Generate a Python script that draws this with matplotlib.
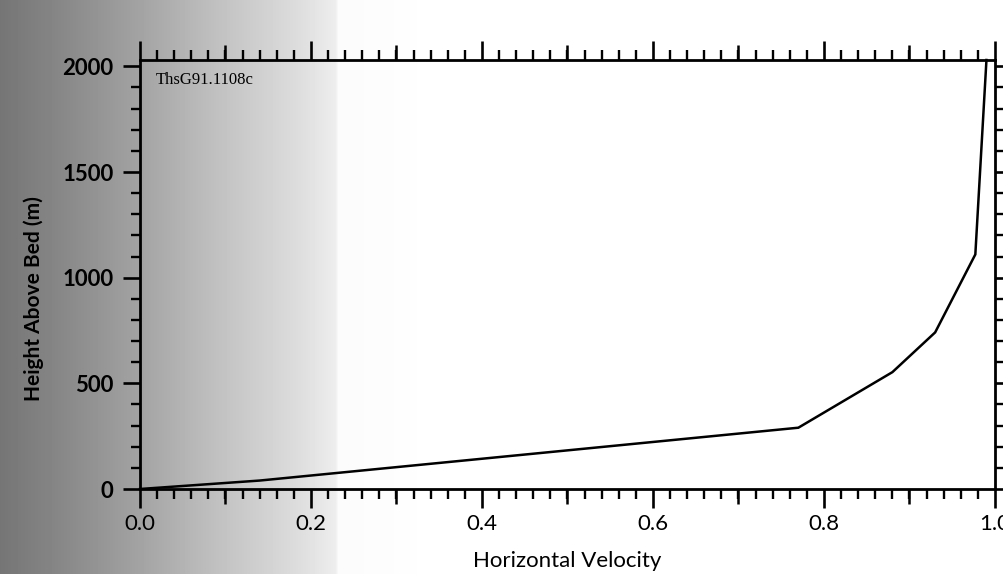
import numpy as np
import matplotlib
matplotlib.use("Agg")
import matplotlib.pyplot as plt
from matplotlib.ticker import MultipleLocator

# velocity profile, normalised horizontal velocity vs height above bed
velocity = [0.0, 0.14, 0.77, 0.88, 0.93, 0.977, 0.99]
height = [0, 40, 290, 553, 741, 1110, 2030]

x_major = [0.0, 0.2, 0.4, 0.6, 0.8, 1.0]
x_mid = [0.1, 0.3, 0.5, 0.7, 0.9]
x_labels = ["0.0", "0.2", "0.4", "0.6", "0.8", "1.0"]
y_major = [0, 500, 1000, 1500, 2000]
y_labels = ["0", "500", "1000", "1500", "2000"]
run_id = "ThsG91.1108c"

W, H = 1004, 574
fig = plt.figure(figsize=(W / 100, H / 100), dpi=100)

# grey shading fading out towards the right
bg = fig.add_axes([0, 0, 1, 1], zorder=-1)
cols = np.arange(W)
shade = np.interp(cols, [0, 60, 140, 220, 300, 335, 338, 415, 420],
                  [0.46, 0.53, 0.64, 0.76, 0.87, 0.93, 0.985, 0.995, 1.0])
bg.imshow(shade[np.newaxis, :], cmap="gray", vmin=0, vmax=1,
          aspect="auto", extent=[0, W, 0, H])
bg.axis("off")

left, right, top, bottom = 140, 995, 60, 489
ax = fig.add_axes([left / W, 1 - bottom / H, (right - left) / W, (bottom - top) / H])
ax.set_facecolor("none")

ax.plot(velocity, height, color="black", lw=1.8, clip_on=False,
        solid_joinstyle="miter")

ax.set_xlim(0, 1.0)
ax.set_ylim(0, 2030)

for s in ax.spines.values():
    s.set_linewidth(2.0)

tick_font = "Lato"
ax.set_xticks(x_major)
ax.set_xticklabels(x_labels, fontsize=16, family=tick_font)
ax.xaxis.set_minor_locator(MultipleLocator(0.02))
ax.set_yticks(y_major)
ax.set_yticklabels(y_labels, fontsize=16, family=tick_font, weight="bold")
ax.yaxis.set_minor_locator(MultipleLocator(100))

ax.tick_params(axis="x", which="major", direction="out", length=14, width=1.9,
               top=True, pad=4)
ax.tick_params(axis="x", which="minor", direction="out", length=7.5, width=1.7,
               top=True)
ax.tick_params(axis="y", which="major", direction="out", length=12, width=1.9,
               right=True, pad=7)
ax.tick_params(axis="y", which="minor", direction="out", length=6.5, width=1.7,
               right=True)

# medium ticks at the odd tenths, top and bottom
for side in ("bottom", "top"):
    sec = ax.secondary_xaxis(side)
    sec.set_xticks(x_mid)
    sec.tick_params(axis="x", direction="out", length=11, width=1.8,
                    labelbottom=False, labeltop=False)
    sec.spines[side].set_visible(False)

ax.set_xlabel("Horizontal Velocity", fontsize=16, family=tick_font, labelpad=12)
ax.set_ylabel("Height Above Bed (m)", fontsize=15, family=tick_font,
              weight="bold")
ax.yaxis.set_label_coords(-0.112, 0.445)

ax.text(0.018, 0.972, run_id, transform=ax.transAxes, va="top", ha="left",
        fontsize=12, family="Liberation Serif")

fig.savefig("out.png", dpi=100)
